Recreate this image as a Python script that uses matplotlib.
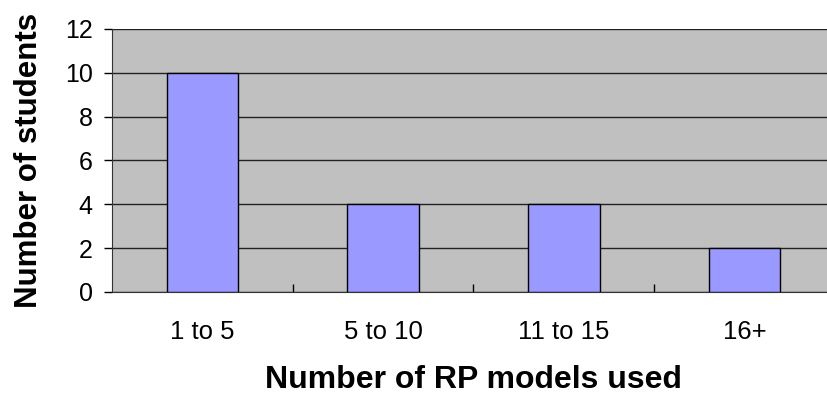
import matplotlib.pyplot as plt
import numpy as np

plt.rcParams['font.family'] = ['Liberation Sans', 'DejaVu Sans']

categories = ['1 to 5', '5 to 10', '11 to 15', '16+']
students = [10, 4, 4, 2]
yticks = [0, 2, 4, 6, 8, 10, 12]

fig = plt.figure(figsize=(8.27, 3.95), dpi=100)
# plot area runs past the right edge, like the cropped original
ax = fig.add_axes([0.1354, 0.2608, 0.8742, 0.6658])
ax.set_facecolor('#C0C0C0')

x = np.arange(len(categories))
ax.bar(x, students, width=0.395, color='#9999FF', edgecolor='black',
       linewidth=1, zorder=3)

ax.set_xlim(-0.5, len(categories) - 0.5)
ax.set_ylim(0, 12)
ax.set_yticks(yticks)
ax.yaxis.grid(True, color='#222222', linewidth=1, zorder=1)
ax.set_axisbelow(True)

# category boundary ticks point inward
ax.set_xticks(x[:-1] + 0.5, minor=True)
ax.set_xticks(x)
ax.set_xticklabels(categories)
ax.tick_params(axis='x', which='major', length=0, pad=20, labelsize=18.5)
ax.tick_params(axis='x', which='minor', direction='in', length=6,
               width=1, color='black')
ax.tick_params(axis='y', direction='out', length=6, width=1,
               labelsize=18, pad=8)

for side in ['top', 'right']:
    ax.spines[side].set_visible(False)
ax.spines['left'].set_color('#333333')
ax.spines['bottom'].set_color('#333333')

ax.set_xlabel('Number of RP models used', fontsize=23, fontweight='bold',
              va='baseline')
ax.xaxis.set_label_coords(0.5, -0.364)

ax.set_ylabel('Number of students', fontsize=22.5, fontweight='bold',
              va='baseline', ha='center', rotation_mode='anchor')
ax.yaxis.set_label_coords(-0.1037, 0.5)

plt.savefig('out.png')
